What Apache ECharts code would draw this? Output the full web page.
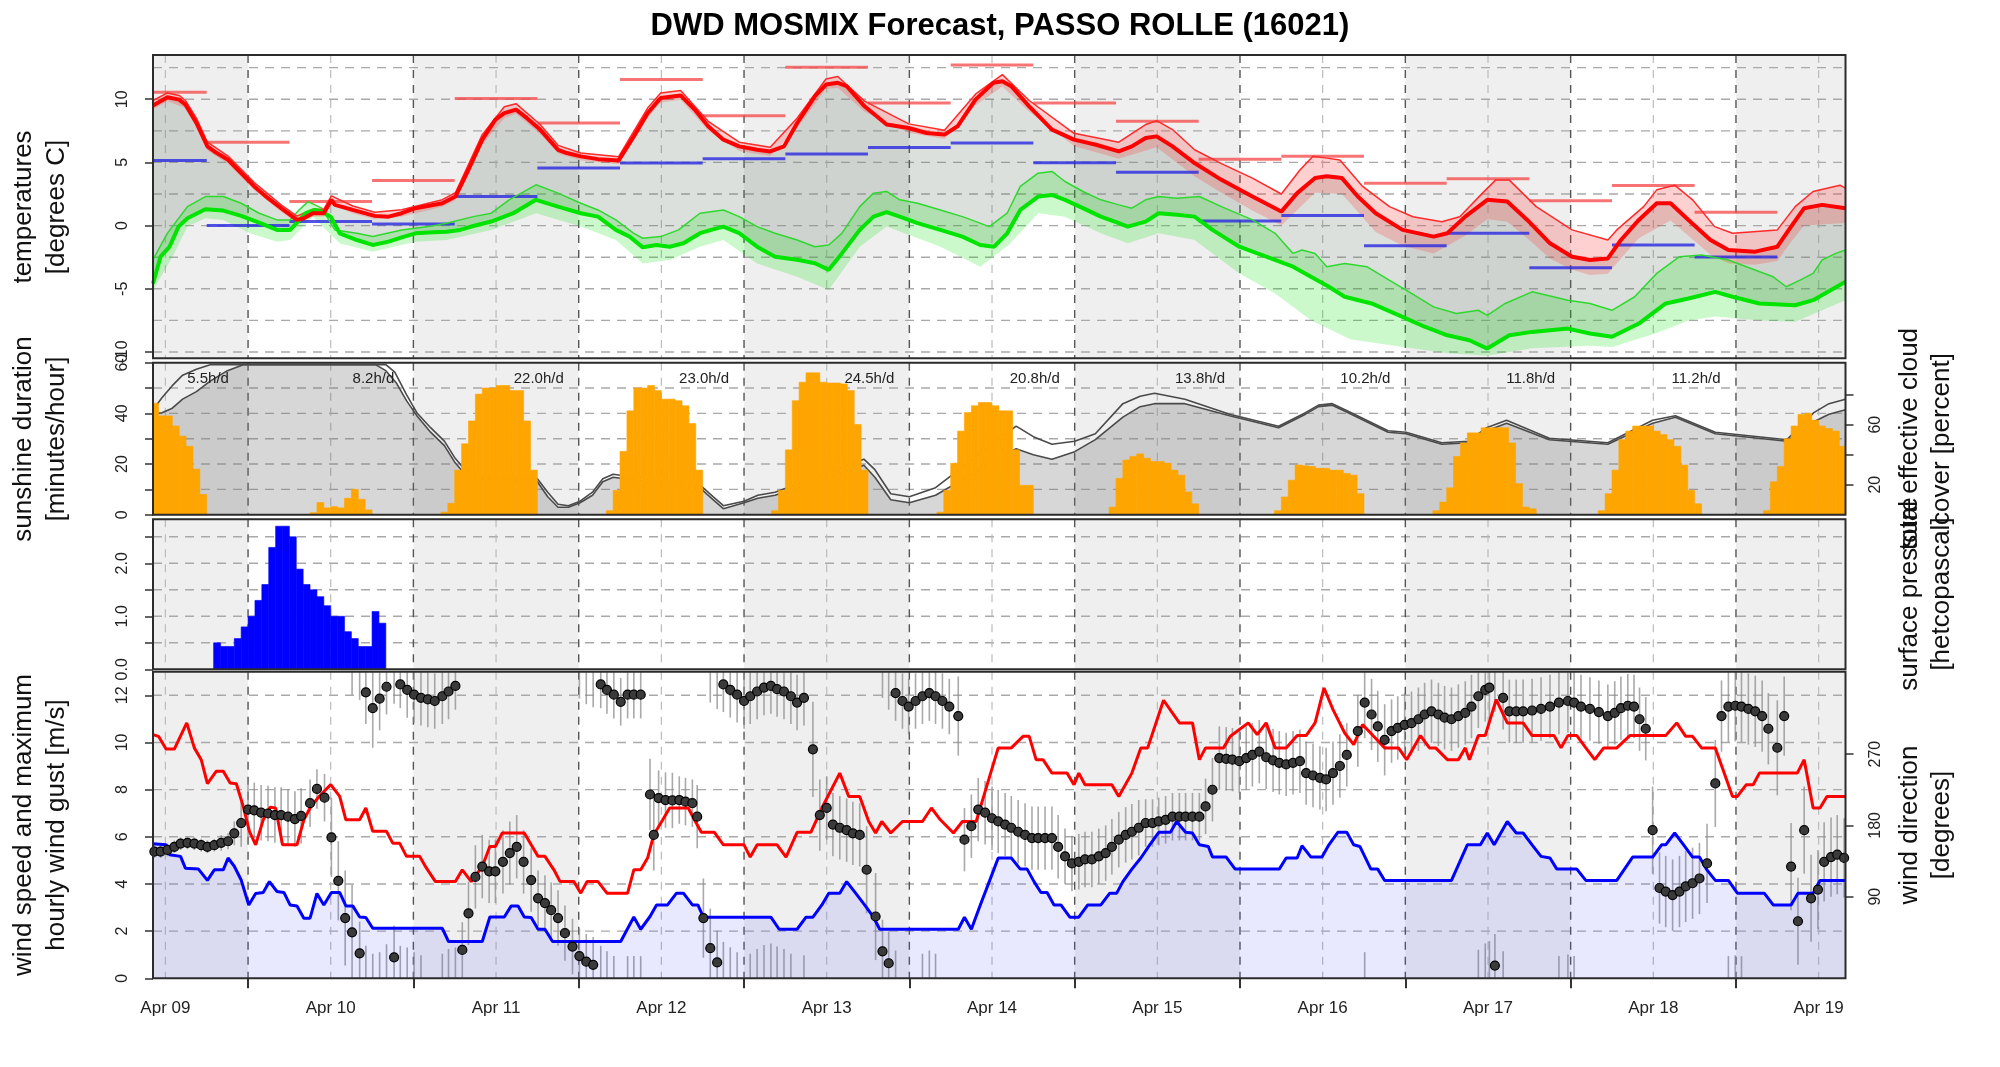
<!DOCTYPE html>
<html><head><meta charset="utf-8">
<script src="https://cdn.jsdelivr.net/npm/echarts@6/dist/echarts.min.js"></script>
<style>html,body{margin:0;padding:0;background:#fff}#c{width:2000px;height:1067px}</style>
</head><body><div id="c"></div><script>
// ---------------- DATA ----------------
const dayLabels = ['Apr 09','Apr 10','Apr 11','Apr 12','Apr 13','Apr 14','Apr 15','Apr 16','Apr 17','Apr 18','Apr 19'];
const noonHours = [12,36,60,84,108,132,156,180,204,228,252];
const midnightHours = [24,48,72,96,120,144,168,192,216,240];
const shadeBands = [[10.2,24],[48,72],[96,120],[144,168],[192,216],[240,255.9]];

const tempTicks = [-10,-5,0,5,10];
const tempGrid = [-10,-7.5,-5,-2.5,0,2.5,5,7.5,10,12.5];
const sunTicks = [0,10,20,30,40,50,60];
const sunTickLabels = [0,20,40,60];
const sunGrid = [10,20,30,40,50];
const cloudTicks = [20,40,60,80];
const cloudTickLabels = [20,60];
const precipTicks = [0,0.5,1,1.5,2,2.5];
const precipTickLabels = [0,1,2];
const precipGrid = [0.5,1,1.5,2,2.5];
const windTicks = [0,2,4,6,8,10,12];
const windGrid = [2,4,6,8,10,12];
const dirTicks = [90,180,270];

const tempMain = [[10.2,9.5],[12.3,10.15],[14,9.97],[14.9,9.58],[16.5,8.12],[18.1,6.27],[19.1,5.87],[21.1,5.21],[23,4.15],[24.9,3.1],[26.9,2.17],[28.8,1.38],[31.1,0.45],[32.1,0.58],[33.4,0.98],[35,0.98],[36.1,2.04],[36.6,1.64],[39.2,1.24],[42.4,0.77],[44.4,0.71],[46.3,0.98],[48.3,1.38],[52.2,1.77],[54.1,2.3],[56,4.42],[58,6.8],[59.9,8.39],[61.2,8.9],[62.9,9.18],[64.5,8.5],[66.4,7.6],[69,6.0],[70.3,5.74],[72.3,5.48],[74.8,5.26],[77.8,5.16],[80,7.06],[82,8.9],[83.9,10.1],[86.8,10.3],[88.8,9.2],[90.8,7.86],[93,6.8],[95.3,6.27],[97.9,6.0],[99.8,5.87],[101.8,6.27],[103.7,8.1],[106.3,10.24],[107.9,11.16],[109.6,11.3],[110.9,11.03],[113.5,9.44],[116.7,8.0],[119.9,7.72],[122.5,7.33],[125.1,7.2],[127,7.86],[129.6,9.97],[132.2,11.3],[133.5,11.43],[134.8,11.03],[137.4,9.44],[140.7,7.6],[143.9,6.8],[147.1,6.4],[150.4,5.87],[152.3,6.27],[154.3,6.93],[155.9,7.06],[158.2,6.27],[161.4,4.95],[165.3,3.62],[169.8,2.3],[174,1.11],[176.3,2.57],[178.9,3.76],[180.6,3.9],[182.8,3.76],[185.1,2.3],[187.7,0.98],[191.6,-0.34],[196.1,-0.87],[198.1,-0.6],[200.7,0.71],[203.9,2.04],[206.8,1.9],[209.7,0.45],[213,-1.4],[216.2,-2.46],[218.8,-2.72],[221.4,-2.6],[223.3,-1.14],[225.9,0.45],[228.5,1.77],[230.5,1.77],[233.1,0.45],[236.3,-1.14],[238.9,-1.93],[242.8,-2.06],[246,-1.67],[248,-0.08],[249.9,1.38],[252.5,1.64],[255.9,1.38]];
const tempUpper = [[10.2,9.9],[12.3,10.5],[14,10.3],[14.9,9.9],[16.5,8.5],[18.1,6.6],[21.1,5.5],[24.9,3.4],[28.8,1.65],[31.1,0.75],[33.4,1.3],[35,1.3],[36.1,2.35],[39.2,1.55],[42.4,1.05],[46.3,1.25],[52.2,2.05],[54.1,2.6],[58,7.2],[61.2,9.4],[62.9,9.65],[66.4,8.0],[69,6.35],[72.3,5.75],[77.8,5.45],[82,9.3],[83.9,10.5],[86.8,10.7],[90.8,8.25],[95.3,6.6],[99.8,6.2],[103.7,8.5],[107.9,11.6],[109.6,11.8],[113.5,9.85],[119.9,8.05],[125.1,7.55],[129.6,10.4],[133.5,11.95],[137.4,9.9],[143.9,7.3],[150.4,6.6],[154.3,8.0],[155.9,8.3],[158.2,7.6],[161.4,6.0],[165.3,4.9],[169.8,3.76],[174,2.5],[176.7,4.4],[178.6,5.48],[180.6,5.34],[182.5,5.2],[185.8,3.1],[189.7,1.5],[193.1,0.7],[197.3,0.3],[199.9,0.7],[203.2,2.57],[205.1,3.6],[207.1,3.6],[211,1.5],[216.2,-0.34],[221.4,-1.14],[222.7,-0.34],[226.6,1.5],[228.5,2.83],[231.1,3.2],[233.7,2.04],[236.9,-0.08],[239.5,-0.6],[246,-0.34],[248.6,1.5],[251.2,2.7],[255.1,3.2],[255.9,2.96]];
const tempLower = [[10.2,9.2],[12.3,9.85],[14.9,9.3],[16.5,7.8],[18.1,5.95],[21.1,4.9],[24.9,2.8],[28.8,1.1],[31.1,0.2],[33.4,0.7],[35,0.7],[36.1,1.75],[39.2,0.95],[42.4,0.5],[46.3,0.7],[52.2,1.5],[54.1,2.0],[58,6.4],[61.2,8.5],[62.9,8.85],[66.4,7.25],[69,5.7],[72.3,5.15],[77.8,4.85],[82,8.5],[83.9,9.75],[86.8,9.95],[90.8,7.5],[95.3,5.9],[99.8,5.5],[103.7,7.7],[107.9,10.8],[109.6,10.9],[113.5,9.0],[119.9,7.35],[125.1,6.85],[129.6,9.5],[133.5,11.0],[137.4,9.0],[143.9,6.3],[150.4,5.3],[155.9,6.2],[161.4,3.9],[165.3,2.6],[169.8,1.2],[174,0.0],[178.9,2.6],[182.8,2.5],[187.7,-0.5],[191.6,-1.6],[196.1,-2.2],[200.7,-0.8],[203.9,0.5],[206.8,0.3],[209.7,-1.0],[213,-2.6],[216.2,-3.5],[218.8,-3.9],[221.4,-3.8],[223.3,-2.6],[225.9,-1.0],[230.5,0.4],[233.1,-0.8],[236.3,-2.3],[238.9,-3.0],[242.8,-3.1],[246,-2.8],[248,-1.3],[249.9,0.0],[255.9,0.2]];
const dewMain = [[10.2,-4.58],[11.3,-2.46],[12.6,-1.67],[13.9,-0.08],[15.2,0.58],[17.8,1.3],[20.4,1.19],[23,0.77],[25.6,0.24],[28.2,-0.34],[30.1,-0.34],[31.1,0.24],[32.4,0.98],[33.7,1.24],[34.7,1.1],[36,0.71],[37.3,-0.61],[39.8,-1.14],[42.1,-1.53],[44.4,-1.27],[46.3,-0.93],[48.3,-0.61],[50.9,-0.53],[52.8,-0.48],[54.8,-0.34],[56.7,-0.03],[59.3,0.32],[62.5,0.98],[65.8,2.04],[69,1.5],[72.3,0.98],[74.8,0.71],[77.4,-0.34],[79.4,-0.87],[81.3,-1.72],[83.3,-1.53],[85.2,-1.67],[87.2,-1.4],[89.6,-0.6],[91.5,-0.3],[93,-0.08],[95.3,-0.6],[97.9,-1.67],[100.5,-2.46],[103.7,-2.7],[106.3,-2.98],[108.3,-3.5],[110.2,-2.2],[112.8,-0.34],[114.8,0.71],[116.7,1.06],[118.6,0.71],[121.2,0.19],[124.5,-0.34],[127.7,-0.87],[130.3,-1.53],[132.3,-1.67],[134.2,-0.61],[136.1,1.24],[138.7,2.3],[140.7,2.43],[142.6,2.04],[145.2,1.38],[147.8,0.71],[150.4,0.19],[151.7,-0.08],[154.3,0.32],[156.2,0.98],[158.8,0.85],[161.4,0.71],[164,-0.34],[167.9,-1.67],[171.8,-2.46],[175.7,-3.25],[178.3,-4.05],[180.9,-4.84],[183.2,-5.63],[187.1,-6.16],[191.6,-7.22],[194.8,-8.0],[198.1,-8.68],[201.3,-9.07],[203.9,-9.73],[207.1,-8.68],[210.4,-8.41],[215.6,-8.15],[218.8,-8.54],[222,-8.8],[225.9,-7.75],[229.8,-6.16],[233.1,-5.77],[237,-5.24],[239.5,-5.63],[243.4,-6.16],[248.6,-6.3],[251.2,-5.9],[255.9,-4.44]];
const dewUpper = [[10.2,-2.7],[12.3,-0.6],[15.2,1.5],[17.8,2.3],[20.4,2.3],[23,1.77],[25.6,0.98],[28.2,0.45],[30.1,0.45],[31.4,1.24],[32.7,1.9],[34.7,1.38],[36.6,-0.34],[39.8,-0.61],[42.1,-0.87],[46.3,-0.34],[50.2,-0.08],[52.8,0.19],[56.7,0.71],[59.3,0.98],[61.9,2.04],[65.8,3.23],[69,2.57],[72.3,1.77],[74.8,1.24],[77.4,0.45],[80,-0.61],[81.3,-1.0],[83.9,-0.87],[86.5,-0.34],[89.6,0.98],[93,1.24],[95.3,0.71],[97.9,-0.08],[100.5,-0.61],[103.7,-1.14],[106.3,-1.67],[108.3,-1.53],[110.2,-0.61],[112.8,1.5],[114.8,2.57],[116.7,2.7],[118.6,2.04],[121.2,1.77],[124.5,1.24],[127.7,0.71],[129,0.45],[131.6,-0.08],[134.2,0.98],[136.1,3.1],[138.7,4.15],[140.7,4.29],[142.6,3.49],[145.2,2.7],[147.8,2.04],[150.4,1.64],[152.3,1.38],[154.3,2.04],[156.2,2.3],[158.8,2.17],[162.1,2.3],[165.3,1.5],[169.8,0.45],[173.1,-0.61],[175.7,-2.2],[177,-1.93],[178.9,-2.2],[180.6,-3.25],[183.2,-3.0],[186.4,-3.25],[189.6,-4.3],[192.9,-5.37],[196.1,-6.43],[199.4,-6.96],[202.6,-6.7],[203.9,-7.1],[206.5,-6.16],[210.4,-5.24],[215.6,-5.9],[218.8,-6.16],[222,-6.7],[225.3,-5.63],[228.5,-3.78],[231.8,-2.46],[235,-2.33],[238.9,-2.72],[241.5,-3.25],[245.4,-4.05],[247.3,-4.84],[249.3,-4.31],[251.2,-3.78],[252.5,-2.72],[254.5,-2.2],[255.9,-1.93]];
const dewLower = [[10.2,-5.1],[13,-2.5],[15.2,-0.08],[17.8,0.58],[20.4,0.45],[24.3,-0.61],[28.2,-1.27],[30.1,-1.14],[33.4,0.71],[37.3,-1.4],[42.1,-2.06],[48.3,-1.27],[52.8,-1.14],[59.3,-0.34],[65.8,0.98],[72.3,-0.08],[77.4,-1.14],[81.3,-3.0],[85.2,-2.72],[89.6,-1.67],[93,-1.14],[97.9,-3.0],[103.7,-4.05],[108.3,-5.1],[112.8,-1.67],[116.7,-0.08],[124.5,-1.67],[130.3,-3.25],[134.5,-1.5],[138.7,0.98],[142.6,0.71],[147.8,-0.61],[151.7,-1.4],[156.2,-0.61],[161.4,-1.14],[167.9,-3.78],[173.1,-5.37],[178.3,-7.49],[184,-9.0],[191.6,-9.6],[198.1,-10.1],[203.9,-10.3],[210.4,-9.7],[218.8,-9.5],[222,-9.6],[228.5,-8.5],[233.1,-7.5],[237,-7.2],[243.4,-7.5],[248.6,-7.6],[255.9,-5.9]];
// 12-hour max / min temperatures: [from hour, to hour, value]
const tmaxSegs = [[6,18,10.56],[18,30,6.6],[30,42,1.9],[42,54,3.57],[54,66,10.05],[66,78,8.12],[78,90,11.56],[90,102,8.7],[102,114,12.54],[114,126,9.7],[126,138,12.7],[138,150,9.7],[150,162,8.25],[162,174,5.26],[174,186,5.48],[186,198,3.36],[198,210,3.7],[210,222,1.96],[222,234,3.17],[234,246,1.06]];
const tminSegs = [[6,18,5.16],[18,30,0],[30,42,0.32],[42,54,0.13],[54,66,2.3],[66,78,4.55],[78,90,4.95],[90,102,5.29],[102,114,5.66],[114,126,6.19],[126,138,6.53],[138,150,4.97],[150,162,4.23],[162,174,0.37],[174,186,0.79],[186,198,-1.59],[198,210,-0.61],[210,222,-3.33],[222,234,-1.53],[234,246,-2.49]];

// sunshine minutes per hour: [hour, minutes]
const sunshine = [[10,44],[11,39],[12,39],[13,35],[14,31],[15,27],[16,18],[17,8],
 [33,0.8],[34,4.8],[35,2.7],[36,3.2],[37,2.7],[38,6.5],[39,10],[40,6.1],[41,1.9],
 [52,1],[53,4.5],[54,17.6],[55,28],[56,37],[57,47.6],[58,50],[59,50],[60,51],[61,51],[62,49],[63,49],[64,37],[65,17.6],
 [76,1.6],[77,9.6],[78,25],[79,41],[80,50],[81,50],[82,51],[83,49],[84,45.6],[85,45.6],[86,45],[87,43],[88,36],[89,17.6],
 [100,1.6],[101,9.6],[102,25.6],[103,45],[104,52.3],[105,56],[106,56],[107,52.3],[108,52],[109,52],[110,51.6],[111,49],[112,35.6],[113,17.6],
 [124,1],[125,9.6],[126,20.3],[127,33],[128,40.3],[129,43],[130,44.3],[131,44.3],[132,43],[133,41],[134,41],[135,25.6],[136,11.6],[137,11.6],
 [149,3],[150,14.3],[151,21.6],[152,23],[153,24],[154,22.3],[155,21],[156,21],[157,20.3],[158,17.6],[159,15.6],[160,9],[161,4.3],
 [173,1.6],[174,7],[175,13.6],[176,19.6],[177,19.3],[178,19],[179,18.3],[180,18.3],[181,17.6],[182,17.6],[183,16.3],[184,15.6],[185,8.3],
 [196,1.6],[197,5],[198,10.6],[199,23],[200,28.3],[201,32.3],[202,32.3],[203,34.3],[204,34.3],[205,34.3],[206,34.3],[207,28.3],[208,12.3],[209,3],[210,2.3],
 [220,1.6],[221,8.3],[222,17.6],[223,29.6],[224,33],[225,35],[226,35],[227,35],[228,33],[229,31.6],[230,29.6],[231,27],[232,19.6],[233,9.6],[234,4.3],
 [244,1.6],[245,13],[246,19],[247,30],[248,35],[249,39.6],[250,40],[251,37.3],[252,35],[253,34],[254,33],[255,27]];
const cloudTotal = [[10.2,70],[11.5,78],[13,86],[14.5,93],[16.5,97],[18.5,100],[44,100],[45.3,95],[47,80],[48.5,68],[50.5,58],[52.5,49],[54,38],[55.5,30],[58,26],[66,24],[67.5,15],[69,7],[70.5,6],[72.2,9],[74,15],[75.5,24],[77,27],[89.8,19],[91.5,12],[93,6],[96,9],[98,13],[100.5,15],[113.4,37],[115,30],[117.3,14],[120,12],[123.8,18],[135.5,59],[138,52],[140.7,47],[144,49],[147,54],[151,74],[153.5,79],[155.6,81],[160,77],[166.5,67],[173.6,59],[177.5,68],[179.4,73],[181.4,74],[183.7,69],[189.5,56],[192.1,55],[197.3,48],[201.2,49],[203.8,58],[206.7,63],[212.9,51],[221.4,48],[227.9,63],[231.2,66],[237,55],[247.4,50],[251.3,68],[253.5,74],[255.9,77]];
const cloudEffective = [[10.2,67],[11.5,68],[13,71],[14.5,77],[16.5,82],[18.5,89],[21,96],[23.3,100],[42.5,100],[44,96],[45.5,88],[47,76],[48.5,66],[50.5,55],[52.5,46],[54,35],[55.5,27],[58,24],[66,22],[67.5,12],[69,5],[70.5,5],[72.2,8],[74,13],[75.5,22],[77,25],[89.8,17],[91.5,10],[93,4],[96,8],[98,11],[100.5,13],[113.4,33],[115,25],[117.3,10],[120,8],[123.8,13],[135.5,44],[138,40],[140.7,37],[144,42],[147,50],[151,65],[153.5,72],[155.6,74],[160,74],[166.5,66],[173.6,58],[177.5,67],[179.4,72],[181.4,73],[183.7,68],[189.5,55],[192.1,54],[197.3,47],[201.2,48],[203.8,56],[206.7,61],[212.9,50],[221.4,47],[227.9,61],[231.2,65],[237,54],[247.4,49],[251.3,62],[253.5,67],[255.9,70]];
const sunDayLabels = ['5.5h/d','8.2h/d','22.0h/d','23.0h/d','24.5h/d','20.8h/d','13.8h/d','10.2h/d','11.8h/d','11.2h/d'];
const sunLabelHours = [18.2,42.2,66.2,90.2,114.2,138.2,162.2,186.2,210.2,234.2];
const sunLabelLevel = 53.5;

// precipitation per hour: [hour, mm]
const precip = [[19,0.5],[20,0.43],[21,0.43],[22,0.58],[23,0.8],[24,1.0],[25,1.3],[26,1.6],[27,2.3],[28,2.7],[29,2.7],[30,2.5],[31,1.89],[32,1.6],[33,1.5],[34,1.37],[35,1.2],[36,1.0],[37,1.0],[38,0.71],[39,0.58],[40,0.43],[41,0.43],[42,1.09],[43,0.87]];

const windSpeed = [[10.2,5.7],[12.1,5.66],[12.6,5.24],[14.2,5.17],[14.9,4.67],[16.8,4.63],[18.1,4.15],[19.1,4.6],[20.4,4.6],[21.1,5.1],[22,4.75],[23,4.17],[24.1,3.11],[25.1,3.6],[26.2,3.64],[27.1,4.1],[28.2,3.68],[29.2,3.64],[30.1,3.11],[31.1,3.07],[32.1,2.55],[33,2.55],[34,3.6],[35,3.11],[36.1,3.64],[37.3,3.64],[38.2,3.07],[39.2,3.07],[40.2,2.6],[41.1,2.58],[42.1,2.12],[52.2,2.12],[53.1,1.56],[58,1.56],[59.1,2.6],[61.2,2.6],[62.2,3.07],[63.2,3.07],[64.1,2.6],[65.1,2.58],[66.1,2.08],[67.1,2.08],[68.2,1.56],[78.1,1.56],[80,2.6],[81,2.08],[82.35,2.62],[83.3,3.11],[84.9,3.11],[86.2,3.61],[87.2,3.61],[88.5,3.11],[89.3,3.11],[90.1,2.59],[99.9,2.59],[101.1,2.08],[103.7,2.08],[105,2.59],[106,2.59],[107.3,3.11],[108.3,3.61],[109.9,3.61],[110.9,4.1],[112.2,3.61],[113.5,3.11],[114.8,2.59],[115.7,2.08],[127.1,2.08],[128,2.59],[129,2.08],[130.3,3.11],[131.6,4.1],[132.9,5.1],[134.8,5.1],[136.1,4.63],[137.1,4.63],[138.1,4.1],[139.1,3.64],[140,3.64],[141,3.11],[142,3.11],[143.3,2.59],[144.6,2.59],[145.9,3.11],[147.8,3.11],[149.1,3.61],[150.1,3.61],[151,4.1],[152.3,4.63],[153.6,5.1],[154.9,5.66],[156.2,6.19],[157.9,6.19],[158.8,6.65],[160.1,6.19],[161.1,6.16],[162.1,5.66],[163.4,5.59],[164,5.14],[166,5.14],[167.3,4.63],[173.7,4.63],[174.7,5.1],[176.3,5.1],[177,5.62],[178.3,5.14],[179.9,5.14],[180.9,5.66],[182.2,6.19],[183.5,6.19],[184.5,5.66],[185.4,5.59],[187,4.63],[188,4.63],[189,4.15],[198.7,4.15],[201,5.66],[202.9,5.66],[203.9,6.16],[204.9,5.66],[206.8,6.65],[208.1,6.16],[209.1,6.16],[210.4,5.66],[211.7,5.17],[213,5.1],[214,4.63],[216.9,4.63],[218.2,4.15],[222.7,4.15],[225,5.14],[227.9,5.14],[229.2,5.66],[229.8,5.66],[231.1,6.16],[232.4,5.66],[233.7,5.14],[234.7,5.14],[235.7,4.63],[237,4.15],[238.9,4.15],[240.2,3.61],[244.1,3.61],[245.4,3.11],[248,3.11],[249,3.61],[251.2,3.61],[252.2,4.15],[255.9,4.15]];
const windGust = [[10.2,10.33],[11,10.26],[12.1,9.72],[13.3,9.72],[15.1,10.83],[16.2,9.77],[17.2,9.27],[18.1,8.25],[19.4,8.78],[20.4,8.78],[21.4,8.28],[22.3,8.25],[23.3,7.29],[24.2,6.23],[25.1,5.66],[26.2,6.72],[27.2,7.25],[28,7.22],[29,5.66],[31.1,5.66],[32.1,6.72],[33,7.22],[34.3,7.71],[36,8.21],[37.3,7.71],[38.2,6.72],[40.2,6.72],[41.1,7.22],[42.1,6.23],[44.1,6.23],[45,5.73],[46,5.73],[47,5.17],[48.9,5.17],[49.9,4.67],[51.2,4.1],[54.1,4.1],[55.1,4.6],[56.4,4.1],[58,4.74],[59.1,5.59],[59.9,5.59],[60.9,6.16],[64.1,6.16],[65.1,5.66],[66.1,5.17],[67.1,5.17],[68.4,4.6],[69.3,4.1],[71.3,4.1],[72.3,3.61],[73.2,4.1],[74.8,4.1],[76.1,3.61],[79.1,3.61],[80,4.6],[81,4.6],[82,5.1],[82.9,6.09],[84.2,6.72],[85.2,7.22],[87.9,7.22],[88.8,6.72],[89.8,6.19],[91.7,6.19],[93,5.66],[96,5.66],[96.9,5.14],[97.9,5.66],[100.8,5.66],[102.1,5.14],[103.7,6.19],[105.7,6.19],[107.3,7.22],[109.9,8.7],[111.2,7.71],[112.8,7.71],[114.1,6.65],[115.1,6.16],[116,6.65],[117.3,6.16],[119,6.65],[121.9,6.65],[123.2,7.22],[124.5,6.72],[126.4,6.16],[127.7,6.65],[129.7,6.65],[131.3,8.21],[132.9,9.77],[134.8,9.77],[136.5,10.26],[137.4,10.26],[138.4,9.27],[139.4,9.27],[140.7,8.7],[142.9,8.7],[143.9,8.21],[144.6,8.7],[145.5,8.21],[149.4,8.21],[150.4,7.71],[152.3,8.7],[153.6,9.77],[154.6,9.77],[156.9,11.79],[159.2,10.83],[161.1,10.83],[162.1,9.27],[163,9.77],[165.6,9.77],[166.6,10.26],[169.2,10.83],[170.5,10.33],[171.8,10.83],[173.1,9.77],[174.7,9.77],[176.3,10.29],[177.6,10.29],[178.9,10.83],[180.2,12.31],[181.5,11.39],[183.2,10.4],[184.5,9.91],[185.8,10.76],[187.4,10.26],[189,9.77],[191,9.77],[192.2,9.27],[194.2,10.29],[195.5,9.77],[196.4,9.77],[198.1,9.27],[199.7,9.27],[200.7,9.77],[201.3,9.27],[202.6,10.29],[203.6,10.29],[205.2,11.82],[206.8,10.83],[209.1,10.83],[210.4,10.29],[213.6,10.29],[214.6,9.77],[215.6,10.29],[216.9,10.29],[218.2,9.77],[219.5,9.27],[220.8,9.77],[222.7,9.77],[224.6,10.29],[229.8,10.29],[231.4,10.83],[232.7,10.26],[233.7,10.26],[235,9.77],[237,9.77],[239.5,7.71],[240.2,7.71],[241.5,8.21],[242.5,8.21],[243.4,8.7],[248.9,8.7],[249.9,9.27],[251.2,7.22],[252.2,7.22],[253.2,7.71],[255.9,7.71]];
// wind direction: [hour, degrees, spread]
const windDir = [[10.4,147,8],[11.3,147,8],[12.3,149,8],[13.3,153,8],[14.2,157,8],[15.2,158,8],[16.2,157,8],[17.2,155,8],[18.1,153,8],[19.1,155,8],[20.1,158,10],[21.1,160,10],[22,170,15],[23,183,30],[24,200,35],[24.9,199,35],[25.9,196,35],[26.9,195,35],[27.9,193,35],[28.8,193,35],[29.8,191,35],[30.8,188,35],[31.7,192,35],[33,208,30],[34,226,25],[35.1,215,30],[36.1,165,50],[37.1,110,50],[38.1,63,60],[39.1,45,60],[40.2,18.5,40],[41.1,348,40],[42.1,328,50],[43.1,340,40],[44.1,355,35],[45.2,13.5,40],[46.1,358,30],[47.1,351,35],[48.1,345,35],[49.1,341,35],[50.1,339,35],[51.1,337,35],[52.2,343,35],[53.1,349,35],[54.1,356,30],[55.1,22.8,35],[56,69,40],[57,115,40],[58,128,40],[59,122,40],[59.9,122,40],[61,134,40],[62,145,40],[63,153,40],[64,134,40],[65.1,111,40],[66.1,88,35],[67.1,82,35],[68,73,35],[69,63,35],[70,44,35],[71.1,27,35],[72.1,15,35],[73.1,8,35],[74.1,4,35],[75.2,358,30],[76.1,351,30],[77.1,345,30],[78.1,336,30],[79.1,345,30],[80,345,30],[81,345,30],[82.35,219,45],[82.9,168,45],[83.6,214.5,35],[84.6,212,35],[85.6,211.5,35],[86.6,212,30],[87.5,210,30],[88.5,208,30],[89.2,191,40],[90.1,63,50],[91.1,25,50],[92.1,7,40],[93,358,35],[94,351,35],[95,345,35],[96,337,35],[96.9,343,35],[97.9,349,35],[98.9,354,35],[99.9,356,35],[100.8,352,35],[101.8,349,35],[102.8,343,35],[103.7,335,35],[104.7,341,35],[106,276,60],[107,193,45],[108,202,40],[108.9,181,40],[109.9,177,40],[110.9,174,40],[111.8,170,40],[112.8,168,40],[113.8,124,55],[115.1,65,55],[116.1,21,40],[117,6,40],[118,347,35],[119,337,35],[119.9,330,35],[120.9,337,35],[121.9,343,35],[122.9,347,35],[123.8,343,35],[124.8,337,35],[125.8,330,35],[127.1,318,50],[128,162,40],[129,179,40],[130,200,40],[131,196,40],[132,189,40],[132.9,185,40],[133.9,181,40],[134.8,177,40],[135.8,172,40],[136.8,168,40],[137.8,164,40],[138.7,164,40],[139.7,164,40],[140.7,164,40],[141.6,153,40],[142.6,141,35],[143.6,132,35],[144.6,134,35],[145.5,137,35],[146.5,137,35],[147.5,141,35],[148.5,145,35],[149.4,153,35],[150.4,162,35],[151.4,168,35],[152.3,172,35],[153.3,177,35],[154.3,183,30],[155.3,183,30],[156.2,185,30],[157.2,187,30],[158.2,191,30],[159.2,191,30],[160.1,191,30],[161.1,191,30],[162.1,191,30],[163,204,35],[164,225,40],[165,265,40],[166,264,40],[166.9,263,40],[167.9,261,40],[168.9,265,40],[169.8,269,40],[170.8,273,40],[171.8,266,40],[172.8,262,40],[173.7,259,40],[174.7,257,40],[175.7,259,40],[176.7,261,40],[177.6,246,40],[178.6,243,40],[179.6,240,40],[180.5,238,40],[181.5,246,40],[182.5,255,40],[183.5,269,40],[185.1,299,45],[186.1,335,45],[187.1,320,45],[188,305,45],[189,288,45],[190,299,40],[190.9,303,40],[191.9,307,40],[192.9,309,40],[193.9,314,40],[194.8,320,40],[195.8,324,40],[196.8,320,40],[197.7,316,40],[198.7,314,40],[199.7,318,40],[200.7,322,40],[201.6,330,40],[202.6,343,40],[203.6,351,40],[204.2,354,40],[205,3,40],[206.2,341,40],[207.1,324,40],[208.1,324,40],[209.1,324,40],[210.4,325,40],[211.7,327,40],[213,330,40],[214.3,335,40],[215.6,337,40],[216.5,335,40],[217.5,330,40],[218.8,327,40],[220.1,323,40],[221.4,318,40],[222.4,322,40],[223.3,328,40],[224.3,331,40],[225.2,330,40],[226,314,40],[226.9,302,40],[227.9,174,55],[228.9,101,45],[229.8,96.5,45],[230.8,92,45],[231.8,96.5,45],[232.7,103,45],[233.7,107,45],[234.7,113,45],[235.8,132,50],[237,233,55],[237.9,318,45],[238.9,330,45],[239.9,331,45],[240.8,330,45],[241.8,327,45],[242.8,324,45],[243.8,318,45],[244.7,302,45],[246,278,60],[247,318,50],[248,128,55],[249,59,55],[249.9,174,55],[250.9,88,55],[251.9,99,50],[252.8,134,50],[253.8,140,50],[254.7,143,50],[255.7,139,50]];

// ---------------- LAYOUT ----------------
const X_MIN = 10.2, X_MAX = 255.9;
const LEFT = 153, WIDTH = 1692.5;
const panels = [{top:55,h:303.3},{top:362.7,h:152},{top:519.3,h:150},{top:671.7,h:306.6}];
const FONT = '"Liberation Sans", Arial, Helvetica, sans-serif';
const DIR_MIN = -13, DIR_MAX = 374;

const chart = echarts.init(document.getElementById('c'), null, {renderer:'canvas'});

function xAx(i, show){
  const base = {type:'value', gridIndex:i, min:X_MIN, max:X_MAX, splitLine:{show:false}, axisLine:{show:false}};
  if(!show) return Object.assign(base, {axisLabel:{show:false}, axisTick:{show:false}});
  return Object.assign(base, {
    axisTick:{show:true, customValues: midnightHours, length:10, lineStyle:{color:'#333', width:2}},
    axisLabel:{show:true, customValues: noonHours, margin:22, fontSize:17, color:'#222', fontFamily:FONT,
      formatter: v => dayLabels[noonHours.indexOf(v)] || ''}
  });
}
function yAx(i, pos, min, max, ticks, labels, fmt){
  return {type:'value', gridIndex:i, position:pos, min, max, splitLine:{show:false}, axisLine:{show:false},
    axisTick:{show:true, customValues:ticks, length:8, lineStyle:{color:'#333', width:1.5}},
    axisLabel:{show:true, customValues:labels, rotate:90, margin:22, fontSize:16, color:'#222', fontFamily:FONT,
      formatter: fmt || (v => String(v))}};
}

const leftAxisOf = [0,1,3,4];
function bgSeries(g){
  return {type:'custom', xAxisIndex:g, yAxisIndex:leftAxisOf[g], data:[[100,0]], silent:true, z:0,
    renderItem:(params, api)=>{
      const cs = params.coordSys;
      return {type:'group', children: shadeBands.map(b=>{
        const x0 = api.coord([b[0],0])[0], x1 = api.coord([b[1],0])[0];
        return {type:'rect', shape:{x:x0, y:cs.y, width:x1-x0, height:cs.height}, style:{fill:'#efefef'}};
      })};
    }};
}
function gridSeries(g, yVals){
  return {type:'custom', xAxisIndex:g, yAxisIndex:leftAxisOf[g], data:[[100,0]], silent:true, z:2,
    renderItem:(params, api)=>{
      const cs = params.coordSys; const ch = [];
      yVals.forEach(v=>{ const y = api.coord([X_MIN, v])[1];
        ch.push({type:'line', shape:{x1:cs.x, y1:y, x2:cs.x+cs.width, y2:y}, style:{stroke:'#a9a9a9', lineWidth:1.4, lineDash:[9,7]}}); });
      noonHours.forEach(h=>{ const x = api.coord([h,0])[0];
        ch.push({type:'line', shape:{x1:x, y1:cs.y, x2:x, y2:cs.y+cs.height}, style:{stroke:'#bcbcbc', lineWidth:1.2, lineDash:[8,7]}}); });
      midnightHours.forEach(h=>{ const x = api.coord([h,0])[0];
        ch.push({type:'line', shape:{x1:x, y1:cs.y, x2:x, y2:cs.y+cs.height}, style:{stroke:'#555', lineWidth:1.4, lineDash:[8,7]}}); });
      return {type:'group', children:ch};
    }};
}
function bandSeries(g, yi, upper, lower, color, z){
  return {type:'custom', xAxisIndex:g, yAxisIndex:yi, data:[[100,0]], silent:true, z,
    renderItem:(params, api)=>{
      const pts = upper.map(p=>api.coord(p)).concat(lower.slice().reverse().map(p=>api.coord(p)));
      return {type:'polygon', shape:{points:pts}, style:{fill:color}};
    }};
}
function lineSeries(g, yi, data, color, width, z, area){
  const s = {type:'line', xAxisIndex:g, yAxisIndex:yi, data, showSymbol:false, symbol:'none', silent:true, z,
    lineStyle:{color, width}};
  if(area) s.areaStyle = {color:area, origin:'start'};
  return s;
}
function segSeries(data, color){
  return {type:'custom', xAxisIndex:0, yAxisIndex:0, data, silent:true, z:5,
    renderItem:(params, api)=>{
      const a = api.coord([Math.max(api.value(0), X_MIN), api.value(2)]);
      const b = api.coord([Math.min(api.value(1), X_MAX), api.value(2)]);
      return {type:'line', shape:{x1:a[0], y1:a[1], x2:b[0], y2:b[1]}, style:{stroke:color, lineWidth:3}};
    }};
}
function barSeries(g, yi, data, color, z){
  return {type:'custom', xAxisIndex:g, yAxisIndex:yi, data, silent:true, z,
    renderItem:(params, api)=>{
      const h = api.value(0), v = api.value(1);
      const a = api.coord([Math.max(h, X_MIN), v]);
      const b = api.coord([Math.min(h+1, X_MAX), 0]);
      return {type:'rect', shape:{x:a[0], y:a[1], width:b[0]-a[0], height:b[1]-a[1]}, style:{fill:color, stroke:color, lineWidth:0.6}};
    }};
}

const series = [];
for(let g=0; g<4; g++) series.push(bgSeries(g));
series.push(gridSeries(0, tempGrid), gridSeries(1, sunGrid), gridSeries(2, precipGrid), gridSeries(3, windGrid));

// temperature panel
series.push(bandSeries(0, 0, tempMain, dewMain, 'rgba(95,115,95,0.22)', 3));
series.push(bandSeries(0, 0, dewUpper, dewLower, 'rgba(0,225,0,0.2)', 3));
series.push(bandSeries(0, 0, tempUpper, tempLower, 'rgba(255,40,40,0.22)', 3));
series.push(segSeries(tmaxSegs, 'rgba(245,70,70,0.75)'));
series.push(segSeries(tminSegs, 'rgba(40,40,225,0.8)'));
series.push(lineSeries(0, 0, dewUpper, '#2fd82f', 1.5, 6));
series.push(lineSeries(0, 0, dewMain, '#00e400', 4, 7));
series.push(lineSeries(0, 0, tempUpper, '#ff2a2a', 1.5, 6));
series.push(lineSeries(0, 0, tempMain, '#ff0000', 4, 7));

// sunshine / cloud panel
series.push(lineSeries(1, 2, cloudEffective, '#4a4a4a', 1.6, 5, 'rgba(110,110,110,0.4)'));
series.push(lineSeries(1, 2, cloudTotal, '#4a4a4a', 1.6, 5));
series.push(barSeries(1, 1, sunshine, '#ffa500', 6));
series.push({type:'custom', xAxisIndex:1, yAxisIndex:1, silent:true, z:8,
  data: sunLabelHours.map(h=>[h, sunLabelLevel]),
  renderItem:(params, api)=>{
    const p = api.coord([api.value(0), api.value(1)]);
    return {type:'text', x:p[0], y:p[1], style:{text: sunDayLabels[params.dataIndex], fill:'#222',
      font:'15px '+FONT, align:'center', verticalAlign:'middle', textAlign:'center', textVerticalAlign:'middle'}};
  }});

// precipitation panel
series.push(barSeries(2, 3, precip, '#0000ff', 6));

// wind panel
series.push(lineSeries(3, 4, windSpeed, '#0000ff', 3, 6, 'rgba(70,70,255,0.18)'));
series.push(lineSeries(3, 4, windGust, '#ff0000', 3, 6));
series.push({type:'custom', xAxisIndex:3, yAxisIndex:5, data: windDir, silent:true, z:5,
  renderItem:(params, api)=>{
    const h = api.value(0), d = api.value(1), s = api.value(2);
    const segs = [[Math.max(d-s, DIR_MIN), Math.min(d+s, DIR_MAX)]];
    if(d+s > DIR_MAX) segs.push([DIR_MIN, d+s-360]);
    if(d-s < DIR_MIN) segs.push([d-s+360, DIR_MAX]);
    return {type:'group', children: segs.map(sg=>{
      const a = api.coord([h, sg[0]]), b = api.coord([h, sg[1]]);
      return {type:'line', shape:{x1:a[0], y1:a[1], x2:b[0], y2:b[1]}, style:{stroke:'rgba(140,140,140,0.75)', lineWidth:1.6}};
    })};
  }});
series.push({type:'scatter', xAxisIndex:3, yAxisIndex:5, silent:true, z:8, symbol:'circle', symbolSize:9,
  data: windDir.map(d=>[d[0], d[1]]),
  itemStyle:{color:'#3a3a3a', borderColor:'#000', borderWidth:1.2, opacity:1}});

const graphics = [];
panels.forEach(p=>graphics.push({type:'rect', z:100, silent:true, shape:{x:LEFT, y:p.top, width:WIDTH, height:p.h},
  style:{fill:'none', stroke:'#2b2b2b', lineWidth:2}}));
function vtext(x, y, text){
  graphics.push({type:'text', x, y, rotation:Math.PI/2, z:100, silent:true,
    style:{text, font:'26px '+FONT, fill:'#111', align:'center', verticalAlign:'middle', textAlign:'center', textVerticalAlign:'middle'}});
}
vtext(24, 207, 'temperatures'); vtext(57, 207, '[degrees C]');
vtext(24, 439, 'sunshine duration'); vtext(57, 439, '[minutes/hour]');
vtext(24, 825, 'wind speed and maximum'); vtext(57, 825, 'hourly wind gust [m/s]');
vtext(1910, 439, 'total effective cloud'); vtext(1942, 439, 'cover [percent]');
vtext(1910, 594, 'surface pressure'); vtext(1942, 594, '[hetcopascal]');
vtext(1910, 825, 'wind direction'); vtext(1942, 825, '[degrees]');
graphics.push({type:'text', x:1000, y:26, z:100, silent:true,
  style:{text:'DWD MOSMIX Forecast, PASSO ROLLE (16021)', font:'bold 31px '+FONT, fill:'#000',
    align:'center', verticalAlign:'middle', textAlign:'center', textVerticalAlign:'middle'}});

chart.setOption({
  animation:false,
  backgroundColor:'#ffffff',
  grid: panels.map(p=>({left:LEFT, top:p.top, width:WIDTH, height:p.h, containLabel:false})),
  xAxis: [xAx(0,false), xAx(1,false), xAx(2,false), xAx(3,true)],
  yAxis: [
    yAx(0,'left',-10.5,13.5,tempTicks,tempTicks),
    yAx(1,'left',0,60,sunTicks,sunTickLabels),
    yAx(1,'right',0,101.3,cloudTicks,cloudTickLabels),
    yAx(2,'left',0,2.83,precipTicks,precipTickLabels, v=>v.toFixed(1)),
    yAx(3,'left',0,13,windTicks,windTicks),
    yAx(3,'right',DIR_MIN,DIR_MAX,dirTicks,dirTicks)
  ],
  series,
  graphic: graphics
});
</script></body></html>
